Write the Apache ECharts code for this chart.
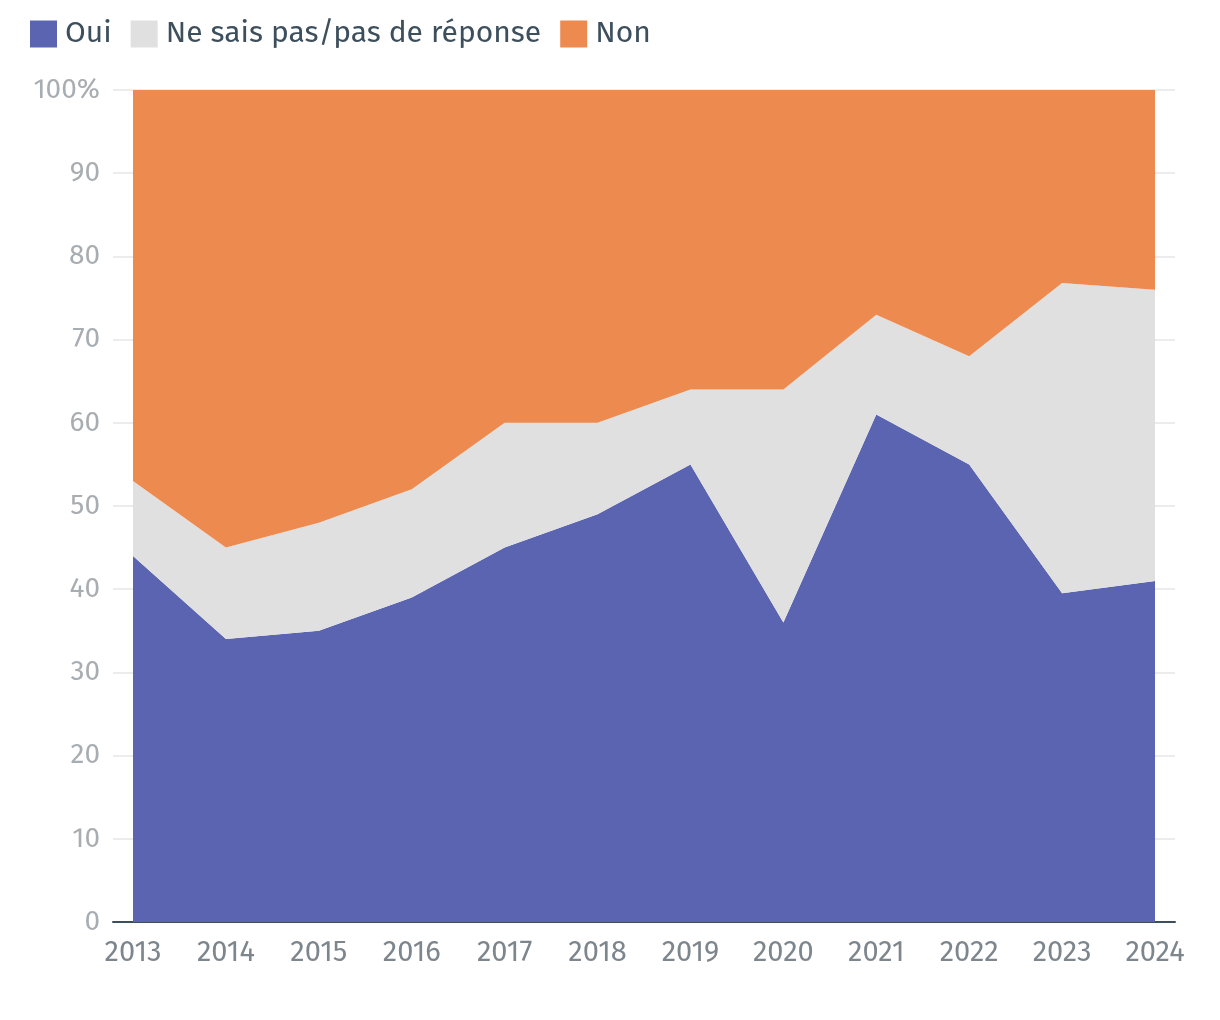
<!DOCTYPE html>
<html><head><meta charset="utf-8">
<script src="https://cdn.jsdelivr.net/npm/echarts@6/dist/echarts.min.js"></script>
<style>html,body{margin:0;padding:0;background:#fff}#c{width:1220px;height:1020px}</style>
</head><body><div id="c"></div>
<script>
const years = ['2013','2014','2015','2016','2017','2018','2019','2020','2021','2022','2023','2024'];
const oui = [44,34,35,39,45,49,55,36,61,55,39.5,41];
const nsp = [9,11,13,13,15,11,9,28,12,13,37.3,35];
const non = [47,55,52,48,40,40,36,36,27,32,23.2,24];
const names = ['Oui','Ne sais pas/pas de réponse','Non'];
const colors = ['#5a64b1','#e0e0e0','#ed8a4f'];
const FONT = '"Fira Sans", Roboto, "Noto Sans", sans-serif';

const chart = echarts.init(document.getElementById('c'), null, {renderer:'canvas'});
function mk(name, arr, color){
  return {name, type:'line', stack:'t', symbol:'none', smooth:false,
    xAxisIndex:1, yAxisIndex:1,
    lineStyle:{width:0}, itemStyle:{color}, areaStyle:{color, opacity:1},
    data: arr};
}
chart.setOption({
  animation:false,
  textStyle:{fontFamily:FONT},
  legend:{left:30, top:19, padding:0, itemWidth:27, itemHeight:27, itemGap:19, icon:'rect',
    data:names, textStyle:{fontSize:30, color:'#3d4f5c', fontFamily:FONT, padding:[0,0,0,3]}},
  grid:[
    {left:113, right:45, top:90, bottom:98, containLabel:false},
    {left:133, right:65, top:90, bottom:98, containLabel:false}
  ],
  xAxis:[
    {gridIndex:0, type:'value', min:0, max:1, show:true,
      axisLine:{show:true, lineStyle:{color:'#3d4f5c', width:2}},
      axisTick:{show:false}, splitLine:{show:false}, axisLabel:{show:false}},
    {gridIndex:1, type:'category', boundaryGap:false, data:years,
      axisLine:{show:false}, axisTick:{show:false}, splitLine:{show:false},
      axisLabel:{color:'#7d868c', fontSize:29, margin:16, fontFamily:FONT}}
  ],
  yAxis:[
    {gridIndex:0, type:'value', min:0, max:100, interval:10,
      axisLine:{show:false}, axisTick:{show:false},
      splitLine:{lineStyle:{color:'#e6e6e6', width:1.5}},
      axisLabel:{color:'#a8adb1', fontSize:28, margin:13, fontFamily:FONT,
        formatter:v=> v===100 ? '100%' : String(v)}},
    {gridIndex:1, type:'value', min:0, max:100, interval:10, show:false,
      splitLine:{show:false}}
  ],
  series:[mk(names[0],oui,colors[0]), mk(names[1],nsp,colors[1]), mk(names[2],non,colors[2])]
});
</script></body></html>
